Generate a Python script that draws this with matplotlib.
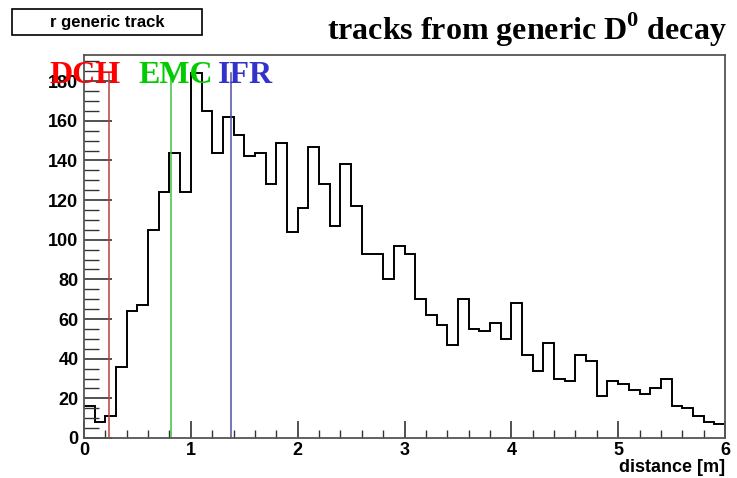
import numpy as np
import matplotlib
matplotlib.use("Agg")
import matplotlib.pyplot as plt
from matplotlib.patches import Rectangle
from matplotlib.ticker import MultipleLocator

# histogram of track distance, 60 bins of 0.1 m from 0 to 6 m
counts = [16, 8, 11, 36, 64, 67, 105, 124, 144, 124,
          184, 165, 144, 162, 153, 142, 144, 128, 149, 104,
          116, 147, 128, 107, 138, 117, 93, 93, 80, 97,
          93, 70, 62, 57, 47, 70, 55, 54, 58, 50,
          68, 42, 34, 48, 30, 29, 42, 39, 21, 29,
          27, 24, 22, 25, 30, 16, 15, 11, 8, 7]
x_lo, x_hi = 0.0, 6.0

# detector boundaries
det_names = ["DCH", "EMC", "IFR"]
det_pos = [0.235, 0.81, 1.38]
det_line_colors = ["#c04040", "#40c040", "#5050a0"]
det_text_colors = ["#ff0000", "#00cc00", "#3333cc"]
det_text_x = [-0.32, 0.505, 1.255]

edges = np.linspace(x_lo, x_hi, len(counts) + 1)

plt.rcParams["font.family"] = "Liberation Sans"
plt.rcParams["mathtext.fontset"] = "custom"
plt.rcParams["mathtext.bf"] = "Liberation Serif:bold"
plt.rcParams["mathtext.rm"] = "Liberation Serif:bold"

fig = plt.figure(figsize=(7.37, 4.78), dpi=100)
ax = fig.add_axes([84 / 737, 1 - 438 / 478, (725 - 84) / 737, (438 - 55) / 478])

ax.stairs(counts, edges, color="black", linewidth=1.4, baseline=None)

hmax = max(counts)
for p, c in zip(det_pos, det_line_colors):
    ax.plot([p, p], [0, hmax], color=c, linewidth=1.1)
for name, tx, c in zip(det_names, det_text_x, det_text_colors):
    ax.text(tx, 179, name, color=c, fontsize=23, fontweight="bold",
            family="Liberation Serif", va="baseline", ha="left", clip_on=False)

ax.set_xlim(x_lo, x_hi)
ax.set_ylim(0, hmax * 1.05)
ax.xaxis.set_major_locator(MultipleLocator(1))
ax.xaxis.set_minor_locator(MultipleLocator(0.2))
ax.yaxis.set_major_locator(MultipleLocator(20))
ax.yaxis.set_minor_locator(MultipleLocator(5))
ax.tick_params(which="both", direction="in", top=False, right=False,
               color="#333333")
ax.tick_params(axis="x", which="major", length=12, width=1.2, pad=3)
ax.tick_params(axis="x", which="minor", length=6, width=1)
ax.tick_params(axis="y", which="major", length=20, width=1.2, pad=4)
ax.tick_params(axis="y", which="minor", length=11, width=1)
for lab in ax.get_xticklabels() + ax.get_yticklabels():
    lab.set_fontweight("bold")
    lab.set_fontsize(13)
for s in ax.spines.values():
    s.set_color("#555555")
    s.set_linewidth(1.3)

ax.set_xlabel("distance [m]", fontsize=13, fontweight="bold")
ax.xaxis.set_label_coords(1.0, -0.055)
ax.xaxis.label.set_horizontalalignment("right")

fig.text(727 / 737, 1 - 40 / 478, r"tracks from generic D$^{\mathbf{0}}$ decay",
         fontsize=23, fontweight="bold", family="Liberation Serif",
         ha="right", va="baseline")

fig.patches.append(Rectangle((12 / 737, 1 - 35 / 478), 190 / 737, 26 / 478,
                             transform=fig.transFigure, fill=False,
                             edgecolor="black", linewidth=1.2))
fig.text(107 / 737, 1 - 22 / 478, "r generic track", fontsize=12,
         fontweight="bold", ha="center", va="center")

fig.savefig("out.png", dpi=100)
